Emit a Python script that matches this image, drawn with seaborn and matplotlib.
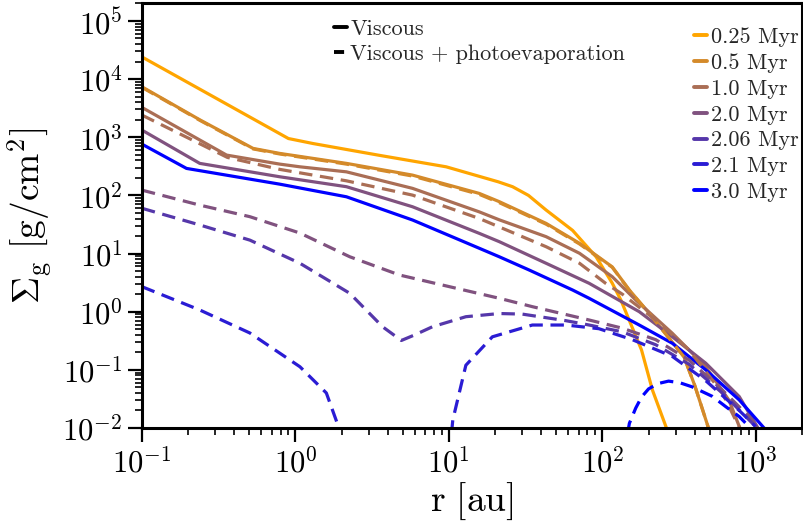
import numpy as np
import pandas as pd
import matplotlib
matplotlib.use("Agg")
import matplotlib.pyplot as plt
import seaborn as sns
from matplotlib.lines import Line2D
from matplotlib.ticker import LogLocator, FuncFormatter, NullFormatter

# ---------------- data ----------------
times = ["0.25 Myr", "0.5 Myr", "1.0 Myr", "2.0 Myr", "2.06 Myr", "2.1 Myr", "3.0 Myr"]
colors = ["#FFA500", "#D48A2A", "#AA6E55", "#80527F", "#5537AA", "#2A1CD4", "#0000FF"]

# viscous (solid)
r_v025 = [0.1, 0.9, 1.3, 3.5, 9.6, 21, 26, 33, 43, 64, 91, 116, 132, 180, 212, 266]
s_v025 = [24000, 950, 780, 490, 310, 171, 141, 100, 56, 25, 8.8, 3.1, 1.59, 0.22, 0.045, 0.0089]

r_v05 = [0.1, 0.24, 0.53, 0.79, 2.15, 5.8, 15.8, 21.3, 43, 71, 116, 150, 202, 340, 400, 496]
s_v05 = [7350, 1970, 642, 527, 355, 223, 108, 78, 33, 15, 5.9, 2.36, 0.94, 0.169, 0.054, 0.0093]

r_v10 = [0.1, 0.356, 0.79, 1.07, 2.15, 5.8, 15.8, 21.3, 43, 71, 116, 165, 286, 472, 669, 796]
s_v10 = [3250, 493, 345, 310, 254, 132, 52, 38, 19.5, 10.1, 4.0, 1.59, 0.425, 0.113, 0.030, 0.0093]

r_v20 = [0.1, 0.238, 0.79, 2.15, 5.8, 15.8, 21.3, 43, 82, 174, 286, 472, 780, 1050]
s_v20 = [1325, 355, 209, 141, 63.7, 22.2, 16, 6.8, 3.08, 1.0, 0.37, 0.130, 0.0347, 0.0093]

r_v30 = [0.1, 0.195, 0.79, 2.15, 5.8, 15.8, 21.3, 33.4, 64, 82, 174, 286, 472, 780, 1160]
s_v30 = [760, 291, 156, 94.6, 37.7, 12.3, 8.8, 5.2, 2.36, 1.70, 0.59, 0.286, 0.10, 0.0304, 0.0093]

# viscous + photoevaporation (dashed)
r_p05 = [0.1, 0.24, 0.53, 0.79, 2.15, 5.8, 15.8, 21.3, 43, 71, 116, 150, 202, 340, 400, 496]
s_p05 = [7200, 1930, 630, 515, 345, 215, 104, 75, 32, 14.6, 5.8, 2.33, 0.93, 0.168, 0.054, 0.0093]

r_p10 = [0.1, 0.36, 0.79, 2.15, 5.8, 15.8, 43, 71, 105, 135, 223, 367, 605, 758, 800]
s_p10 = [2400, 450, 280, 178, 101, 40, 13.1, 6.8, 3.08, 2.0, 0.72, 0.22, 0.040, 0.012, 0.0093]

r_p20 = [0.1, 0.238, 0.505, 1.07, 2.26, 4.77, 10.1, 21.3, 35, 82, 135, 223, 367, 605, 903, 1050]
s_p20 = [123, 68, 43, 22.5, 8.8, 4.27, 2.69, 1.7, 1.22, 0.72, 0.52, 0.33, 0.148, 0.045, 0.0157, 0.0093]

r_p206 = [0.1, 0.238, 0.505, 1.07, 2.26, 3.7, 4.9, 6.0, 7.8, 12.9, 21.3, 30, 58, 82, 135, 223, 367, 605, 998]
s_p206 = [60, 31, 17, 6.8, 2.07, 0.55, 0.32, 0.40, 0.55, 0.82, 0.93, 0.91, 0.70, 0.59, 0.45, 0.27, 0.125, 0.040, 0.0106]

r_p21_in = [0.1, 0.238, 0.505, 1.07, 1.59, 1.94, 2.05]
s_p21_in = [2.69, 1.07, 0.43, 0.113, 0.04, 0.0093, 0.006]

r_p21_out = [10.4, 10.6, 12.9, 19.2, 35, 58, 95, 157, 286, 472, 780, 998]
s_p21_out = [0.008, 0.0137, 0.12, 0.37, 0.59, 0.59, 0.51, 0.33, 0.17, 0.065, 0.02, 0.0106]

r_p30 = [146, 150, 165, 180, 200, 230, 270, 320, 385, 450, 521, 637, 780, 903, 950]
s_p30 = [0.008, 0.012, 0.022, 0.034, 0.047, 0.058, 0.064, 0.060, 0.051, 0.042, 0.035, 0.0233, 0.0157, 0.0106, 0.0085]

xlim = (0.1, 2000)
ylim = (1e-2, 2e5)

# ---------------- style ----------------
sns.set_style("ticks")
plt.rcParams["mathtext.fontset"] = "cm"
plt.rcParams["font.family"] = ["cmr10", "Liberation Serif", "DejaVu Serif"]

fig = plt.figure(figsize=(8.04, 5.26), dpi=100)
ax = fig.add_axes([0.1766, 0.1863, 0.8209, 0.8072])
ax.set_xscale("log")
ax.set_yscale("log")

LW = 2.3
DASH = (0, (4.2, 2.4))

solid = [(r_v025, s_v025, 0), (r_v05, s_v05, 1), (r_v10, s_v10, 2),
         (r_v20, s_v20, 3), (r_v30, s_v30, 6)]
dashed = [(r_p05, s_p05, 1), (r_p10, s_p10, 2), (r_p20, s_p20, 3),
          (r_p206, s_p206, 4), (r_p21_in, s_p21_in, 5), (r_p21_out, s_p21_out, 5),
          (r_p30, s_p30, 6)]

for r, s, i in solid:
    sns.lineplot(x=r, y=s, ax=ax, color=colors[i], lw=LW, sort=False,
                 estimator=None, linestyle="-")
for r, s, i in dashed:
    sns.lineplot(x=r, y=s, ax=ax, color=colors[i], lw=LW, sort=False,
                 estimator=None, linestyle=DASH)

ax.set_xlim(*xlim)
ax.set_ylim(*ylim)

# ticks
fmt = FuncFormatter(lambda v, p: r"$10^{%d}$" % int(round(np.log10(v))))
for axis in (ax.xaxis, ax.yaxis):
    axis.set_major_locator(LogLocator(base=10, numticks=20))
    axis.set_minor_locator(LogLocator(base=10, subs=np.arange(2, 10), numticks=20))
    axis.set_major_formatter(fmt)
    axis.set_minor_formatter(NullFormatter())
ax.tick_params(which="major", direction="out", length=10, width=1.6,
               labelsize=22, color="black", labelcolor="black", pad=4)
ax.tick_params(which="minor", direction="out", length=5, width=1.2, color="black")
ax.tick_params(top=False, right=False, which="both")

for sp in ax.spines.values():
    sp.set_linewidth(2.2)
    sp.set_color("black")

ax.set_xlabel(r"$\mathrm{r\ [au]}$", fontsize=27, labelpad=2, color="black")
ax.set_ylabel(r"$\Sigma_{\rm g}\ [\mathrm{g/cm^2}]$", fontsize=27, labelpad=6, color="black")

# legends
legprop = {"family": "cmr10", "size": 16}
h1 = [Line2D([], [], color="black", lw=2.8, ls="-"),
      Line2D([], [], color="black", lw=2.8, ls=(0, (2.6, 6)))]
leg1 = ax.legend(h1, ["Viscous", "Viscous + photoevaporation"], loc="upper left",
                 bbox_to_anchor=(0.267, 1.0), frameon=False, prop=legprop,
                 handlelength=0.6, handletextpad=0.15, labelspacing=0.25,
                 borderaxespad=0.3)
ax.add_artist(leg1)

h2 = [Line2D([], [], color=c, lw=2.8, ls="-") for c in colors]
leg2 = ax.legend(h2, times, loc="upper right", bbox_to_anchor=(1.018, 0.98),
                 frameon=False, prop=legprop, handlelength=0.6,
                 handletextpad=0.15, labelspacing=0.28, borderaxespad=0.3)

fig.savefig("out.png", dpi=100)
